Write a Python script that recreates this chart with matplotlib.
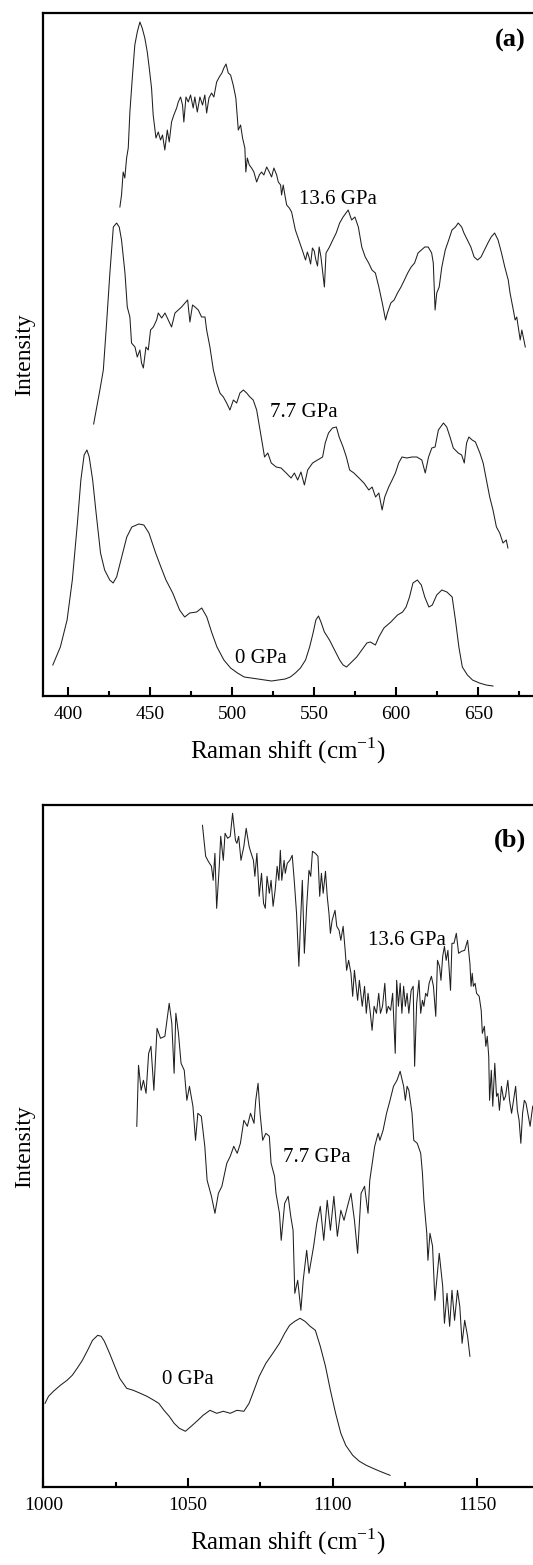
import matplotlib
matplotlib.use("Agg")
import matplotlib.pyplot as plt
from matplotlib.ticker import MultipleLocator

plt.rcParams['font.family'] = ['Liberation Serif', 'DejaVu Serif']
plt.rcParams['mathtext.fontset'] = 'custom'
plt.rcParams['mathtext.rm'] = 'Liberation Serif'

# ---------------- (a) 390-680 cm-1 ----------------
a136_x = [431.5, 432.5, 433.5, 434.5, 435.6, 436.6, 437.6, 439.2, 440.6, 442.1,
          443.7, 445.1, 446.7, 448.2, 449.4, 450.8, 451.8, 453.5, 454.9, 456.3,
          457.5, 458.9, 460.4, 461.6, 463.0, 464.4, 466.1, 467.1, 468.5, 469.7,
          470.5, 471.8, 473.2, 474.6, 476.2, 477.2, 478.7, 480.3, 481.9, 483.3,
          484.4, 485.8, 487.4, 488.8, 490.5, 492.1, 493.7, 494.9, 496.2, 497.6,
          499.0, 500.6, 502.2, 503.7, 505.1, 506.3, 507.7, 508.3, 509.2, 510.4,
          511.8, 513.2, 514.9, 516.5, 517.9, 519.3, 521.0, 522.6, 524.0, 525.4,
          527.1, 528.1, 529.5, 530.1, 531.1, 532.1, 533.2, 534.8, 536.2, 538.5,
          540.6, 542.7, 544.7, 545.8, 546.8, 547.8, 548.9, 550.0, 551.0, 552.0,
          553.0, 554.1, 556.2, 557.2, 559.3, 561.3, 563.4, 565.5, 567.6, 570.7,
          572.8, 574.8, 576.9, 579.0, 581.1, 583.2, 585.2, 587.3, 589.4, 591.5,
          593.5, 594.6, 596.7, 598.7, 600.8, 602.9, 605.0, 607.0, 609.1, 611.2,
          613.3, 615.3, 617.4, 619.5, 621.6, 622.6, 623.7, 624.7, 626.2, 627.8,
          629.9, 632.0, 634.0, 636.1, 637.8, 639.9, 641.3, 643.4, 645.5, 647.5,
          649.6, 651.7, 653.8, 655.9, 657.9, 660.0, 662.1, 664.2, 666.2, 668.3,
          669.4, 671.4, 672.5, 673.5, 675.6, 676.6, 678.7]
a136_y = [489, 501, 524, 518, 538, 548, 584, 621, 651, 664,
          674, 668, 658, 644, 628, 608, 581, 558, 564, 556,
          561, 546, 566, 554, 574, 581, 588, 594, 599, 591,
          574, 599, 594, 601, 588, 599, 584, 599, 591, 601,
          583, 598, 603, 599, 614, 619, 623, 628, 632, 623,
          621, 611, 598, 566, 571, 558, 548, 524, 538, 531,
          528, 524, 514, 521, 524, 521, 529, 524, 519, 528,
          521, 514, 511, 501, 511, 501, 491, 488, 484, 466,
          456, 446, 436, 444, 439, 432, 448, 445, 436, 430,
          449, 439, 409, 443, 449, 456, 463, 473, 479, 486,
          476, 479, 469, 449, 439, 433, 426, 423, 409, 393,
          376, 383, 393, 396, 403, 409, 416, 423, 429, 433,
          443, 446, 449, 449, 443, 433, 386, 403, 409, 429,
          446, 456, 466, 469, 473, 469, 463, 456, 449, 439,
          436, 439, 446, 453, 459, 463, 456, 443, 429, 416,
          403, 386, 376, 379, 356, 366, 349]

a77_x = [415.5, 419.3, 421.4, 423.4, 425.4, 427.5, 429.5, 431.1, 432.5, 434.6,
         436.0, 437.6, 438.6, 440.7, 442.1, 443.7, 444.7, 445.8, 447.4, 448.8,
         450.2, 451.9, 453.9, 454.9, 457.0, 459.0, 461.0, 463.0, 465.1, 467.1,
         469.1, 471.2, 472.8, 474.2, 475.8, 477.3, 479.3, 481.3, 483.4, 484.4,
         486.4, 488.5, 490.5, 492.5, 494.6, 496.6, 498.6, 500.7, 502.7, 504.7,
         506.8, 508.8, 510.8, 512.8, 514.9,
         518.7, 519.7, 521.7, 523.8, 526.8, 529.8, 532.9, 535.9, 537.9, 539.9,
         541.9, 544.0, 546.0, 549.0, 552.0, 555.1, 556.7, 558.7, 561.1, 563.5,
         565.2, 567.6, 569.6, 571.6, 574.2, 577.3, 580.3, 583.3, 585.3, 587.4,
         589.4, 591.4, 593.0, 595.4, 597.5, 599.5, 601.5, 603.5, 606.5, 609.6,
         612.6, 615.6, 617.7, 619.7, 621.7, 623.7, 625.7, 628.8, 630.8, 632.8,
         634.8, 637.8, 639.9, 641.5, 642.9, 644.3, 646.3, 648.3, 651.0, 653.0,
         655.0, 657.0, 659.0, 661.1, 663.1, 665.1, 667.1, 668.1]
a77_y = [272, 306, 326, 373, 423, 469, 473, 469, 456, 423,
         389, 379, 353, 349, 339, 346, 333, 328, 349, 346,
         366, 369, 376, 383, 378, 383, 376, 369, 383, 386,
         389, 393, 396, 374, 391, 389, 386, 379, 379, 366,
         349, 326, 313, 303, 299, 293, 286, 296, 293, 303,
         306, 303, 299, 296, 286,
         249, 239, 243, 233, 229, 228, 223, 218, 223, 216,
         224, 211, 226, 233, 236, 239, 253, 263, 268, 269,
         259, 249, 239, 226, 223, 218, 213, 206, 209, 199,
         203, 186, 199, 209, 216, 223, 233, 239, 238, 239,
         239, 236, 223, 239, 248, 249, 266, 273, 269, 259,
         248, 243, 241, 233, 253, 259, 256, 254, 243, 233,
         216, 199, 186, 169, 163, 153, 156, 148]

a0_x = [390.6, 395.2, 399.3, 402.5, 405.6, 407.7, 409.7, 411.4, 412.8, 414.9,
        417.0, 419.7, 422.2, 425.3, 427.4, 429.5, 432.6, 435.7, 438.8, 443.0,
        446.1, 449.2, 453.3, 456.5, 459.6, 463.7, 467.9, 471.0, 474.1, 478.3,
        481.4, 484.5, 487.6, 490.7, 494.9, 499.0, 503.2, 507.3, 511.5, 515.7,
        519.8, 524.0, 528.1, 532.3, 535.4, 538.5, 541.6, 544.7, 547.2, 549.3,
        551.0, 552.6, 554.1, 556.2, 559.3, 562.4, 565.5, 567.6, 569.7, 572.8,
        575.9, 579.0, 582.1, 584.2, 587.3, 589.4, 592.5, 596.7, 600.8, 603.9,
        606.0, 608.1, 610.2, 612.9, 615.3, 617.4, 619.9, 622.0, 624.7, 627.8,
        630.9, 634.1, 636.1, 638.2, 640.3, 643.4, 646.5, 650.7, 654.8, 659.0]
a0_y = [31, 49, 76, 116, 173, 216, 241, 246, 239, 216,
        183, 143, 126, 116, 113, 119, 139, 159, 169, 172,
        171, 163, 143, 129, 116, 103, 86, 79, 83, 84,
        88, 79, 63, 49, 36, 28, 23, 19, 18, 17,
        16, 15, 16, 17, 19, 23, 28, 36, 49, 63,
        76, 80, 74, 64, 56, 46, 36, 31, 29, 34,
        39, 46, 53, 54, 51, 59, 68, 74, 81, 84,
        89, 99, 113, 116, 111, 99, 89, 91, 101, 106,
        104, 99, 76, 49, 29, 21, 16, 13, 11, 10]

# ---------------- (b) 1000-1170 cm-1 ----------------
b136_x = [1055.0, 1056.1, 1057.0, 1058.1, 1058.7, 1059.3, 1059.9, 1060.8, 1061.3, 1062.2,
          1062.8, 1063.7, 1064.6, 1065.4, 1066.4, 1066.9, 1067.5, 1068.3, 1069.3, 1070.1,
          1071.1, 1071.6, 1072.6, 1073.1, 1073.8, 1074.6, 1075.4, 1076.1, 1076.7, 1077.3,
          1078.1, 1078.7, 1079.4, 1080.1, 1080.8, 1081.4, 1081.9, 1082.4, 1083.2, 1083.6,
          1084.3, 1085.2, 1086.0, 1086.7, 1087.5, 1088.3, 1088.9, 1089.5, 1090.2, 1091.0,
          1091.8, 1092.4, 1093.0, 1094.0, 1094.9, 1095.5, 1096.1, 1096.7, 1097.5, 1098.1,
          1098.7, 1099.2, 1099.8, 1100.8, 1101.4, 1102.2, 1102.8, 1103.6, 1104.3, 1104.8,
          1105.5, 1106.3, 1106.9, 1107.5, 1108.1, 1108.6, 1109.2, 1110.2, 1111.0, 1111.6,
          1112.2, 1113.0, 1113.6, 1114.3, 1115.1, 1115.9, 1116.5, 1117.2, 1118.0, 1118.6,
          1119.2, 1120.0, 1120.7, 1121.6, 1122.1, 1122.7, 1123.3, 1123.9, 1124.5, 1125.1,
          1125.7, 1126.3, 1127.1, 1127.8, 1128.3, 1129.0, 1129.8, 1130.4, 1131.0, 1131.5,
          1132.1, 1132.7, 1133.3, 1134.1, 1134.8, 1135.6, 1136.2, 1136.9, 1137.4, 1138.0,
          1138.6, 1139.2, 1139.8, 1140.7, 1141.2, 1141.9, 1142.7, 1143.5, 1144.5, 1145.6,
          1146.6, 1147.4, 1147.8, 1148.2, 1148.6, 1149.2, 1149.7, 1150.6, 1151.3, 1151.7,
          1152.4, 1152.9, 1153.4, 1153.9, 1154.2, 1154.8, 1155.3, 1156.0, 1156.6, 1157.1,
          1157.6, 1158.3, 1159.1, 1159.7, 1160.5, 1161.1, 1161.8, 1162.7, 1163.2, 1163.8,
          1164.4, 1165.0, 1165.6, 1166.2, 1166.8, 1167.4, 1168.2, 1169.1, 1170.1]
b136_y = [662, 631, 626, 621, 607, 634, 579, 621, 651, 627,
          654, 649, 651, 674, 647, 644, 651, 627, 641, 659,
          641, 636, 627, 611, 634, 591, 614, 584, 579, 611,
          594, 607, 581, 597, 621, 607, 637, 607, 627, 614,
          624, 627, 632, 607, 574, 521, 567, 607, 534, 581,
          617, 611, 636, 634, 631, 591, 614, 594, 616, 591,
          574, 554, 567, 577, 561, 557, 547, 561, 537, 517,
          527, 514, 491, 517, 501, 487, 507, 481, 501, 474,
          494, 474, 457, 481, 474, 494, 474, 481, 504, 474,
          481, 477, 494, 434, 507, 481, 504, 474, 501, 481,
          494, 474, 497, 501, 421, 484, 507, 474, 487, 481,
          494, 491, 504, 511, 501, 471, 527, 521, 507, 531,
          541, 527, 537, 497, 544, 544, 554, 534, 536, 537,
          547, 524, 501, 514, 501, 504, 494, 491, 477, 454,
          461, 441, 451, 431, 387, 417, 381, 424, 391, 394,
          377, 401, 387, 391, 407, 387, 374, 391, 401, 377,
          367, 344, 374, 387, 384, 374, 361, 381, 384]

b77_x = [1032.3, 1032.9, 1033.8, 1034.6, 1035.5, 1036.4, 1037.2, 1038.2, 1039.3, 1040.5,
         1042.0, 1043.5, 1044.4, 1045.2, 1045.8, 1046.7, 1047.6, 1048.7, 1049.6, 1050.5,
         1051.7, 1052.6, 1053.4, 1054.6, 1055.8, 1056.6, 1058.1, 1059.3, 1060.5, 1061.7,
         1063.4, 1064.6, 1065.8, 1067.0, 1068.1, 1069.3, 1070.5, 1071.6, 1072.8, 1073.4,
         1074.2, 1074.9, 1075.8, 1076.9, 1078.1, 1078.7, 1079.9, 1080.4, 1081.6, 1082.2,
         1083.4, 1084.6, 1085.5, 1086.3, 1086.9, 1087.9, 1089.0, 1089.8, 1091.0, 1091.8,
         1093.4, 1094.5, 1095.7, 1096.9, 1098.1, 1099.2, 1100.4, 1101.6, 1102.8, 1103.9,
         1105.1, 1106.3, 1107.5, 1108.6, 1109.8, 1111.0, 1112.2, 1112.8, 1114.5, 1115.7,
         1116.3, 1117.4, 1118.6, 1119.8, 1121.0, 1122.2, 1123.3, 1124.5, 1125.1, 1125.7,
         1126.3, 1127.4, 1128.0, 1129.2, 1130.4, 1131.0, 1131.5, 1132.5, 1132.9, 1133.6,
         1134.5, 1135.3, 1136.8, 1138.0, 1138.6, 1139.5, 1140.4, 1141.2, 1142.1, 1143.1,
         1143.9, 1144.7, 1145.6, 1146.6, 1147.4]
b77_y = [361, 422, 397, 407, 394, 434, 441, 397, 459, 449,
         451, 484, 464, 414, 474, 454, 424, 417, 387, 401,
         381, 347, 374, 371, 341, 307, 291, 274, 294, 301,
         324, 331, 341, 334, 344, 367, 361, 374, 364, 387,
         404, 374, 347, 354, 351, 324, 311, 294, 274, 247,
         284, 291, 271, 257, 194, 207, 177, 207, 237, 214,
         241, 264, 281, 247, 287, 257, 291, 251, 277, 267,
         281, 294, 267, 234, 294, 301, 274, 307, 341, 354,
         347, 357, 374, 387, 401, 407, 416, 401, 387, 401,
         397, 374, 347, 344, 334, 314, 287, 254, 227, 254,
         241, 187, 234, 201, 164, 194, 161, 197, 167, 197,
         181, 144, 167, 151, 131]

b0_x = [1000.6, 1001.8, 1003.5, 1005.9, 1008.2, 1010.0, 1011.7, 1013.5, 1015.3, 1017.0,
        1018.8, 1020.0, 1021.1, 1022.9, 1024.7, 1026.4, 1028.8, 1031.1, 1033.5, 1035.8,
        1038.2, 1039.9, 1041.7, 1043.5, 1045.2, 1047.0, 1049.1, 1051.1, 1053.4, 1055.2,
        1057.6, 1059.9, 1062.2, 1064.6, 1066.9, 1069.3, 1071.1, 1072.8, 1074.6, 1076.9,
        1079.3, 1081.6, 1083.4, 1085.1, 1086.9, 1088.7, 1090.4, 1092.2, 1094.0, 1095.7,
        1097.5, 1099.2, 1101.0, 1102.8, 1104.5, 1106.9, 1109.2, 1111.6, 1113.9, 1116.3,
        1119.8]
b0_y = [84, 91, 96, 102, 107, 112, 119, 127, 137, 147,
        152, 151, 146, 134, 121, 109, 99, 97, 94, 91,
        87, 84, 77, 71, 64, 59, 56, 61, 67, 72,
        77, 74, 76, 74, 77, 76, 84, 97, 111, 124,
        134, 144, 154, 162, 166, 169, 166, 161, 157, 141,
        121, 97, 74, 54, 42, 32, 26, 22, 19, 16,
        12]

pressures = ['13.6 GPa', '7.7 GPa', '0 GPa']


def style_axes(ax, major, minor):
    ax.spines['right'].set_visible(False)
    for s in ('left', 'bottom', 'top'):
        ax.spines[s].set_linewidth(1.6)
    ax.set_yticks([])
    ax.xaxis.set_major_locator(MultipleLocator(major))
    ax.xaxis.set_minor_locator(MultipleLocator(minor))
    ax.tick_params(axis='x', which='major', direction='in', length=6.5, width=1.5,
                   labelsize=14, pad=7, top=False)
    ax.tick_params(axis='x', which='minor', direction='in', length=3.8, width=1.5, top=False)
    ax.set_xlabel(r'Raman shift (cm$^{\mathregular{-1}}$)', fontsize=18, labelpad=9)
    ax.set_ylabel('Intensity', fontsize=17, labelpad=6)


fig = plt.figure(figsize=(5.33, 15.65), dpi=100)
W, H = 533.0, 1565.0
ax1 = fig.add_axes([43.3 / W, 1 - 696 / H, 1 - 43.3 / W, (696 - 13) / H])
ax2 = fig.add_axes([43.3 / W, 1 - 1487.3 / H, 1 - 43.3 / W, (1487.3 - 805) / H])

lc = '0.12'
ax1.plot(a136_x, a136_y, color=lc, lw=0.75)
ax1.plot(a77_x, a77_y, color=lc, lw=0.75)
ax1.plot(a0_x, a0_y, color=lc, lw=0.75)
ax1.set_xlim(384.8, 683.4)
ax1.set_ylim(0, 683)
style_axes(ax1, 50, 25)
ax1.text(540.6, 492, pressures[0], fontsize=15)
ax1.text(522.9, 279, pressures[1], fontsize=15)
ax1.text(501.5, 33, pressures[2], fontsize=15)
ax1.text(0.985, 0.951, '(a)', transform=ax1.transAxes, ha='right', fontsize=19,
         fontweight='bold')

ax2.plot(b136_x, b136_y, color=lc, lw=0.75)
ax2.plot(b77_x, b77_y, color=lc, lw=0.75)
ax2.plot(b0_x, b0_y, color=lc, lw=0.75)
ax2.set_xlim(1000, 1169.2)
ax2.set_ylim(0, 682.3)
style_axes(ax2, 50, 25)
ax2.text(1112.2, 542, pressures[0], fontsize=15)
ax2.text(1082.8, 325, pressures[1], fontsize=15)
ax2.text(1040.9, 103, pressures[2], fontsize=15)
ax2.text(0.985, 0.939, '(b)', transform=ax2.transAxes, ha='right', fontsize=19,
         fontweight='bold')

fig.savefig('out.png', dpi=100)
